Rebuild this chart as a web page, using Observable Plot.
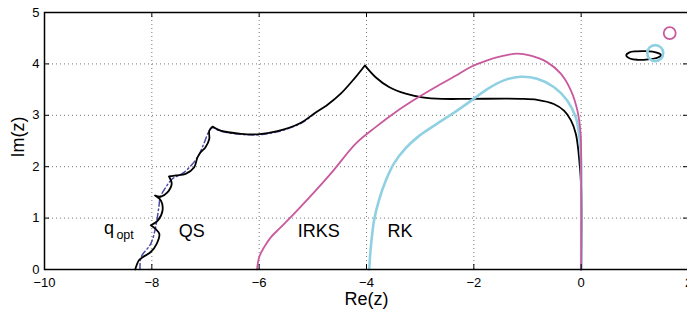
<!DOCTYPE html>
<html><head><meta charset="utf-8">
<script src="https://cdn.jsdelivr.net/npm/d3@7"></script>
<script src="https://cdn.jsdelivr.net/npm/@observablehq/plot@0.6"></script>
<style>body{margin:0;background:#fff} svg{display:block}</style>
</head><body><div id="chart"></div>
<script>
const xTicks = [-10, -8, -6, -4, -2, 0, 2];
const yTicks = [0, 1, 2, 3, 4, 5];
const xGrid = [-8, -6, -4, -2, 0];
const yGrid = [1, 2, 3, 4];

// QS boundary (black); cusp points are listed twice
const qsRe = [-8.31,-8.24,-8.17,-8.02,-7.91,-7.86,-7.93,-8.02,-8.02,-7.89,-7.80,-7.83,-7.94,-7.94,-7.83,-7.71,-7.63,-7.68,-7.68,-7.55,-7.37,-7.21,-7.15,-7.09,-7.00,-6.93,-6.93,-6.87,-6.87,-6.72,-6.34,-6.03,-5.66,-5.23,-4.98,-4.72,-4.48,-4.23,-4.03,-4.03,-3.83,-3.58,-3.27,-2.96,-2.59,-2.06,-1.13,-0.82,-0.51,-0.32,-0.19,-0.10,-0.06,-0.04,0,0];
const qsIm = [0,0.18,0.24,0.34,0.50,0.69,0.79,0.86,0.86,0.95,1.15,1.34,1.44,1.44,1.42,1.50,1.67,1.81,1.81,1.83,1.86,1.99,2.18,2.28,2.38,2.54,2.70,2.78,2.78,2.70,2.64,2.63,2.69,2.85,3.03,3.21,3.42,3.71,3.97,3.97,3.74,3.55,3.42,3.35,3.32,3.32,3.32,3.30,3.22,3.09,2.90,2.64,2.38,2.18,1.6,0];

// q_opt boundary (dash-dot)
const qoRe = [-8.22,-8.20,-8.02,-7.93,-7.87,-7.84,-7.74,-7.62,-7.40,-7.15,-7.03,-6.93,-6.87,-6.72,-6.34,-6.03,-5.66,-5.23,-4.98];
const qoIm = [0,0.24,0.50,0.82,1.21,1.41,1.60,1.76,1.89,2.18,2.45,2.70,2.76,2.69,2.63,2.62,2.68,2.84,3.02];

// IRKS boundary (magenta)
const irRe = [-6.04,-6.00,-5.91,-5.78,-5.60,-5.29,-4.67,-4.20,-3.83,-3.46,-3.08,-2.71,-2.34,-2.06,-1.75,-1.44,-1.19,-0.94,-0.63,-0.38,-0.19,-0.07,-0.01,0,0];
const irIm = [0,0.24,0.43,0.63,0.82,1.15,1.86,2.45,2.77,3.06,3.32,3.55,3.77,3.94,4.07,4.16,4.20,4.16,4.03,3.81,3.48,3.09,2.64,2.12,0];

// RK boundary (light blue)
const rkRe = [-3.95,-3.92,-3.86,-3.77,-3.64,-3.49,-3.27,-3.02,-2.71,-2.40,-2.03,-1.75,-1.44,-1.13,-0.82,-0.51,-0.26,-0.10,-0.04,-0.01,0,0];
const rkIm = [0,0.43,0.95,1.34,1.73,2.06,2.36,2.60,2.82,3.03,3.30,3.51,3.68,3.75,3.71,3.55,3.29,2.96,2.64,2.32,2.0,0];

// small isolated components
const ellRe = [0.84,0.90,1.02,1.18,1.33,1.46,1.49,1.42,1.25,1.06,0.92];
const ellIm = [4.17,4.225,4.245,4.25,4.24,4.20,4.17,4.12,4.09,4.08,4.10];
const rkCircle = {re: 1.38, im: 4.21};
const irCircle = {re: 1.65, im: 4.60};

const labels = [
  {re: -8.89, im: 0.70, text: "q", size: 18},
  {re: -8.66, im: 0.595, text: "opt", size: 12.5},
  {re: -7.50, im: 0.63, text: "QS", size: 18},
  {re: -5.28, im: 0.63, text: "IRKS", size: 18},
  {re: -3.61, im: 0.63, text: "RK", size: 18}
];

const toRows = (re, im) => re.map((x, i) => ({x, y: im[i]}));
const qs = toRows(qsRe, qsIm), qo = toRows(qoRe, qoIm), ir = toRows(irRe, irIm), rk = toRows(rkRe, rkIm), ell = toRows(ellRe, ellIm);

const pink = "#c9589c", blue = "#8fd0e2";

const chart = Plot.plot({
  width: 687, height: 312,
  marginLeft: 44, marginRight: -1, marginTop: 12, marginBottom: 43,
  x: {domain: [-10, 2]},
  y: {domain: [0, 5]},
  style: {fontFamily: "'Liberation Sans', Arial, sans-serif", fontSize: "13px", color: "#000", background: "#fff"},
  marks: [
    Plot.gridX(xGrid, {stroke: "#777", strokeOpacity: 1, strokeDasharray: "1,3"}),
    Plot.gridY(yGrid, {stroke: "#777", strokeOpacity: 1, strokeDasharray: "1,3"}),
    Plot.line(qo, {x: "x", y: "y", stroke: "#4a4aa8", strokeWidth: 1.5, strokeDasharray: "6,3,1.5,3", curve: "catmull-rom"}),
    Plot.line(qs, {x: "x", y: "y", stroke: "#000", strokeWidth: 1.8, curve: "catmull-rom"}),
    Plot.line(rk, {x: "x", y: "y", stroke: blue, strokeWidth: 2.6, curve: "catmull-rom"}),
    Plot.line(ir, {x: "x", y: "y", stroke: pink, strokeWidth: 1.8, curve: "catmull-rom"}),
    Plot.line(ell, {x: "x", y: "y", stroke: "#000", strokeWidth: 1.8, curve: "catmull-rom-closed"}),
    Plot.dot([rkCircle], {x: "re", y: "im", r: 8, stroke: blue, strokeWidth: 2.6, fill: "none"}),
    Plot.dot([irCircle], {x: "re", y: "im", r: 6, stroke: pink, strokeWidth: 1.8, fill: "none"}),
    Plot.frame({stroke: "#000", strokeWidth: 1.5}),
    Plot.ruleX(xTicks, {x: d => d, y1: 0, y2: 0, insetTop: -5, stroke: "#000"}),
    Plot.ruleX(xTicks, {x: d => d, y1: 5, y2: 5, insetBottom: -5, stroke: "#000"}),
    Plot.ruleY(yTicks, {y: d => d, x1: -10, x2: -10, insetRight: -5, stroke: "#000"}),
    Plot.ruleY(yTicks, {y: d => d, x1: 2, x2: 2, insetLeft: -5, stroke: "#000"}),
    Plot.axisX(xTicks, {tickSize: 0, tickPadding: 8, label: null, fontSize: 13}),
    Plot.axisY(yTicks, {tickSize: 0, tickPadding: 5, label: null, fontSize: 13, tickFormat: d => String(d)}),
    Plot.text(labels, {x: "re", y: "im", text: "text", fontSize: "size", textAnchor: "start", lineAnchor: "bottom", fill: "#000"}),
    Plot.text(["Re(z)"], {frameAnchor: "bottom", lineAnchor: "bottom", dy: 35, fontSize: 18, fill: "#000"}),
    Plot.text(["Im(z)"], {frameAnchor: "left", textAnchor: "middle", lineAnchor: "middle", dx: -26, dy: -4, rotate: -90, fontSize: 18, fill: "#000"})
  ]
});
document.getElementById("chart").append(chart);
</script>
</body></html>
